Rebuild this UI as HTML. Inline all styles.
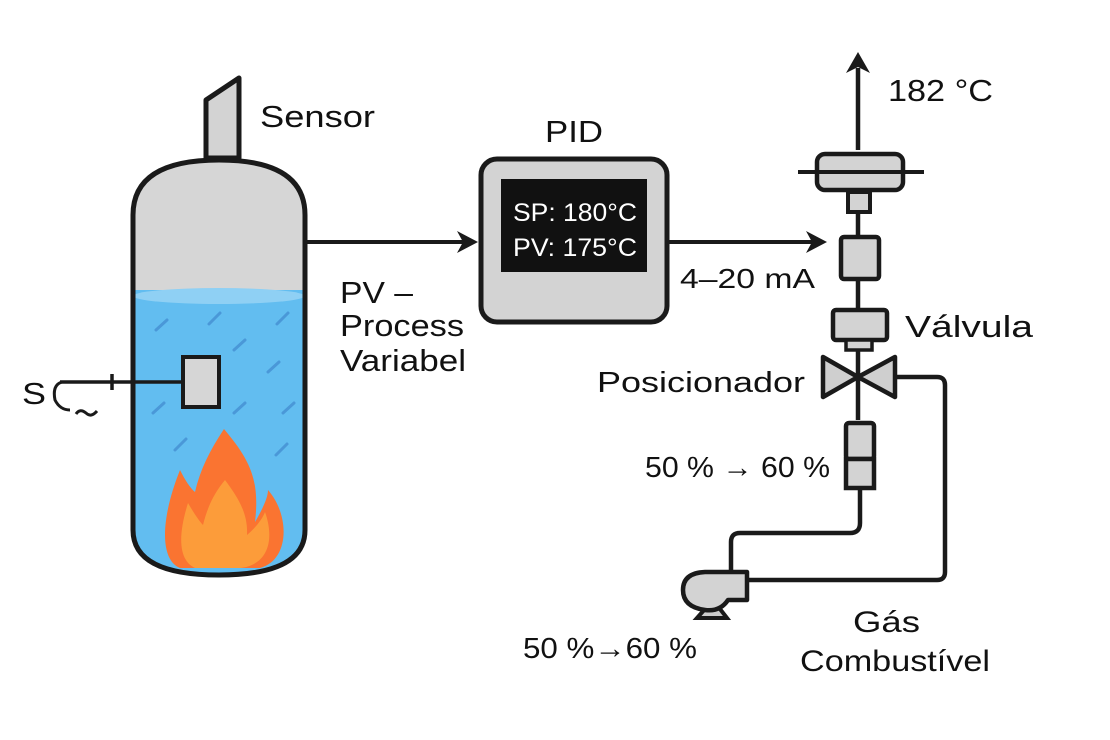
<!DOCTYPE html>
<html><head><meta charset="utf-8"><style>
html,body{margin:0;padding:0;background:#fff;}
svg{display:block;font-family:"Liberation Sans","DejaVu Sans",sans-serif;}
text{fill:#111;}
</style></head><body>
<svg width="1110" height="740" viewBox="0 0 1110 740" xmlns="http://www.w3.org/2000/svg">
<rect width="1110" height="740" fill="#fff"/>
<defs>
<clipPath id="tank"><path d="M133,215 Q133,160 219,160 Q305,160 305,215 L305,530 Q305,575 219,575 Q133,575 133,530 Z"/></clipPath>
</defs>
<path d="M206,158 L206,100 L239,78 L239,158 Z" fill="#d3d3d3" stroke="#1a1a1a" stroke-width="5" stroke-linejoin="round"/>
<g clip-path="url(#tank)">
<rect x="133" y="155" width="175" height="425" fill="#d6d6d6"/>
<rect x="133" y="290" width="175" height="290" fill="#62bdf0"/>
<ellipse cx="219" cy="296" rx="86" ry="8" fill="#8fd0f4"/>
<g stroke="#4a98d8" stroke-width="3" stroke-linecap="round">
<line x1="156" y1="330" x2="167" y2="320"/><line x1="209" y1="324" x2="220" y2="313"/><line x1="277" y1="324" x2="288" y2="313"/>
<line x1="234" y1="350" x2="245" y2="340"/><line x1="268" y1="372" x2="279" y2="362"/><line x1="153" y1="413" x2="164" y2="403"/>
<line x1="234" y1="413" x2="245" y2="403"/><line x1="283" y1="413" x2="294" y2="403"/><line x1="175" y1="450" x2="186" y2="439"/>
<line x1="276" y1="455" x2="287" y2="444"/>
</g>
<path d="M224,429 C250,460 260,480 255,522 C262,510 268,498 268,490 C290,515 290,560 260,568 L180,568 C160,560 160,520 180,470 C185,480 190,488 195,492 C200,470 210,450 224,429 Z" fill="#fa7431"/>
<path d="M225,480 C240,500 248,515 247,535 C255,528 262,520 265,512 C275,540 268,565 240,568 L195,568 C178,560 178,535 188,503 C195,515 200,522 203,525 C208,505 215,492 225,480 Z" fill="#fc9c3a"/>
</g>
<path d="M133,215 Q133,160 219,160 Q305,160 305,215 L305,530 Q305,575 219,575 Q133,575 133,530 Z" fill="none" stroke="#1a1a1a" stroke-width="5"/>
<rect x="183" y="357" width="36" height="50" fill="#d6d6d6" stroke="#1a1a1a" stroke-width="4"/>
<line x1="60" y1="382" x2="183" y2="382" stroke="#1a1a1a" stroke-width="3.5"/>
<line x1="112" y1="374" x2="112" y2="390" stroke="#1a1a1a" stroke-width="3.5"/>
<path d="M62,382 Q52,385 55,400 Q60,410 70,410" fill="none" stroke="#1a1a1a" stroke-width="3"/>
<path d="M76,414 Q80,408 86,413 Q91,418 97,411" fill="none" stroke="#1a1a1a" stroke-width="3"/>
<text x="22" y="404" font-size="31" textLength="24" lengthAdjust="spacingAndGlyphs">S</text>
<text x="260" y="127" font-size="31" textLength="115" lengthAdjust="spacingAndGlyphs">Sensor</text>
<line x1="305" y1="242" x2="465" y2="242" stroke="#1a1a1a" stroke-width="4"/>
<path d="M478,242 L457,231 L463,242 L457,253 Z" fill="#1a1a1a"/>
<text x="340" y="303" font-size="31" textLength="73" lengthAdjust="spacingAndGlyphs">PV –</text>
<text x="340" y="336" font-size="31" textLength="124" lengthAdjust="spacingAndGlyphs">Process</text>
<text x="340" y="371" font-size="31" textLength="126" lengthAdjust="spacingAndGlyphs">Variabel</text>
<text x="545" y="142" font-size="31" textLength="58" lengthAdjust="spacingAndGlyphs">PID</text>
<rect x="481" y="159" width="186" height="163" rx="16" fill="#d3d3d3" stroke="#1a1a1a" stroke-width="5"/>
<rect x="501" y="179" width="146" height="93" fill="#111"/>
<text x="513" y="221" font-size="25" textLength="124" lengthAdjust="spacingAndGlyphs" style="fill:#fff">SP: 180°C</text>
<text x="513" y="256" font-size="25" textLength="124" lengthAdjust="spacingAndGlyphs" style="fill:#fff">PV: 175°C</text>
<line x1="667" y1="242" x2="815" y2="242" stroke="#1a1a1a" stroke-width="4"/>
<path d="M827,242 L806,231 L812,242 L806,253 Z" fill="#1a1a1a"/>
<text x="680" y="288" font-size="28" textLength="135" lengthAdjust="spacingAndGlyphs">4–20 mA</text>
<line x1="858" y1="150" x2="858" y2="68" stroke="#1a1a1a" stroke-width="4.5"/>
<path d="M858,52 L846,73 L858,67 L870,73 Z" fill="#1a1a1a"/>
<text x="888" y="101" font-size="31" textLength="105" lengthAdjust="spacingAndGlyphs">182 °C</text>
<line x1="858" y1="190" x2="858" y2="420" stroke="#1a1a1a" stroke-width="4.5"/>
<rect x="817" y="154" width="86" height="36" rx="8" fill="#d3d3d3" stroke="#1a1a1a" stroke-width="4.5"/>
<line x1="798" y1="172" x2="924" y2="172" stroke="#1a1a1a" stroke-width="4"/>
<rect x="848" y="192" width="22" height="20" fill="#d3d3d3" stroke="#1a1a1a" stroke-width="4"/>
<rect x="841" y="237" width="38" height="42" rx="3" fill="#d3d3d3" stroke="#1a1a1a" stroke-width="4.5"/>
<rect x="833" y="310" width="54" height="30" rx="3" fill="#d3d3d3" stroke="#1a1a1a" stroke-width="4.5"/>
<rect x="846" y="340" width="26" height="10" fill="#d3d3d3" stroke="#1a1a1a" stroke-width="3.5"/>
<path d="M823,357 L858,377 L823,397 Z M895,357 L858,377 L895,397 Z" fill="#cfcfcf" stroke="#1a1a1a" stroke-width="4.5" stroke-linejoin="round"/>
<text x="905" y="337" font-size="31" textLength="128" lengthAdjust="spacingAndGlyphs">Válvula</text>
<text x="597" y="392" font-size="29" textLength="208" lengthAdjust="spacingAndGlyphs">Posicionador</text>
<path d="M895,377 L937,377 Q945,377 945,385 L945,572 Q945,580 937,580 L748,580" fill="none" stroke="#1a1a1a" stroke-width="4.5"/>
<path d="M860,490 L860,523 Q860,533 850,533 L740,533 Q731,533 731,542 L731,570" fill="none" stroke="#1a1a1a" stroke-width="4.5"/>
<rect x="846" y="423" width="28" height="36" rx="3" fill="#d3d3d3" stroke="#1a1a1a" stroke-width="4.5"/>
<rect x="846" y="459" width="28" height="29" fill="#d3d3d3" stroke="#1a1a1a" stroke-width="4.5"/>
<text x="645" y="477" font-size="29" textLength="185" lengthAdjust="spacingAndGlyphs">50 % → 60 %</text>
<path d="M705,609 L697,618 L727,618 L720,609" fill="#ccc" stroke="#1a1a1a" stroke-width="4"/>
<path d="M730,572 L747,572 L747,600 L728,600 Q720,612 705,610 Q683,607 683,590 Q683,573 705,572 Z" fill="#d3d3d3" stroke="#1a1a1a" stroke-width="4.5" stroke-linejoin="round"/>
<text x="523" y="658" font-size="29" textLength="174" lengthAdjust="spacingAndGlyphs">50 %→60 %</text>
<text x="853" y="632" font-size="30" textLength="67" lengthAdjust="spacingAndGlyphs">Gás</text>
<text x="800" y="671" font-size="30" textLength="190" lengthAdjust="spacingAndGlyphs">Combustível</text>
</svg>
</body></html>
